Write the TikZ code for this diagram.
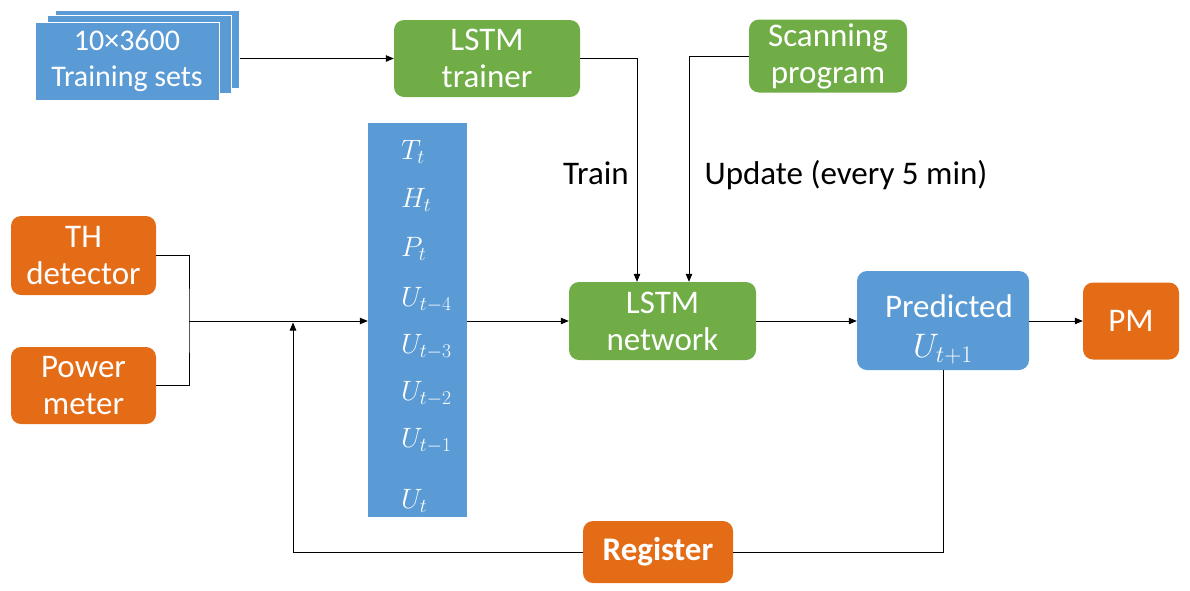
\RequirePackage{fix-cm}
\documentclass[tikz,border=0pt]{standalone}
\usepackage{fontspec}
\setmainfont{Carlito}
\usetikzlibrary{arrows.meta}
\definecolor{cblue}{RGB}{91,155,213}
\definecolor{cgreen}{RGB}{112,173,71}
\definecolor{corange}{RGB}{228,108,23}
\begin{document}
\begin{tikzpicture}[x=1pt,y=-1pt,
  box/.style={rounded corners=10pt, text=white, align=center, inner sep=0pt,
    font=\fontsize{33}{37}\selectfont},
  gbox/.style={box, fill=cgreen},
  obox/.style={box, fill=corange},
  bbox/.style={box, fill=cblue},
  sheet/.style={fill=cblue, draw=white, line width=1pt, inner sep=0pt,
    minimum width=184pt, minimum height=78pt, text=white, align=center,
    font=\fontsize{30}{36}\selectfont},
  var/.style={anchor=base west, text=white, inner sep=0pt, font=\fontsize{28}{32}\selectfont},
  lbl/.style={anchor=base, inner sep=0pt, text=black, font=\fontsize{33}{37}\selectfont},
  wire/.style={line width=0.8pt, black},
  arr/.style={wire, -{Triangle[length=8pt,width=6.5pt]}}
]
\useasboundingbox (0,0) rectangle (1190,590);

% training sets stack
\node[sheet] (ts3) at (147,49) {};
\node[sheet] (ts2) at (139,54) {};
\node[sheet] (ts) at (127,61) {10×3600\\Training sets};

% green boxes
\node[gbox, minimum width=186pt, minimum height=77pt] (trainer) at (487,58.5) {LSTM\\trainer};
\node[gbox, minimum width=158pt, minimum height=73pt] (scan) at (828,56) {Scanning\\program};
\node[gbox, minimum width=187pt, minimum height=78pt] (net) at (662.5,321) {LSTM\\network};

% labels
\node[lbl] (train) at (596,184) {Train};
\node[lbl] (upd) at (846,184) {Update (every 5 min)};

% input column
\node[fill=cblue, inner sep=0pt, minimum width=99pt, minimum height=394pt] (col) at (417.5,320) {};
\node[var] (v1) at (401,159) {$T_t$};
\node[var] (v2) at (401,207) {$H_t$};
\node[var] (v3) at (401,256) {$P_t$};
\node[var] (v4) at (401,306) {$U_{t-4}$};
\node[var] (v5) at (401,353) {$U_{t-3}$};
\node[var] (v6) at (401,400) {$U_{t-2}$};
\node[var] (v7) at (401,447) {$U_{t-1}$};
\node[var] (v8) at (401,508) {$U_{t}$};

% orange boxes
\node[obox, minimum width=145pt, minimum height=79pt] (th) at (83.5,255.5) {TH\\detector};
\node[obox, minimum width=145pt, minimum height=77pt] (pw) at (83.5,385.5) {Power\\meter};
\node[obox, minimum width=96pt, minimum height=77pt] (pm) at (1131,321) {PM};
\node[obox, minimum width=150pt, minimum height=62pt, font=\fontsize{33}{37}\selectfont\bfseries] (reg) at (658,552) {Register};

% predicted
\node[bbox, minimum width=172pt, minimum height=99pt] (pred) at (943,320.5) {};
\node[lbl, text=white] (predt) at (949,317) {Predicted};
\node[lbl, text=white, font=\fontsize{34}{40}\selectfont] (predu) at (943,357) {$U_{t+1}$};

% connectors
\coordinate (jn) at (189,321);
\coordinate (fb) at (293,322.5);
\draw[arr] (ts3.east |- trainer.west) -- (trainer.west);
\draw[arr] (trainer.east) -| ([xshift=-25.5pt]net.north);
\draw[arr] (scan.west) -| ([xshift=26.5pt]net.north);
\draw[wire] (th.east) -| (jn) |- (pw.east);
\draw[arr] (jn) -- (col.west |- jn);
\draw[arr] (col.east |- net.west) -- (net.west);
\draw[arr] (net.east) -- (pred.west |- net.east);
\draw[arr] (pred.east |- pm.west) -- (pm.west);
\draw[wire] (pred.south) |- (reg.east);
\draw[arr] (reg.west) -| (fb);
\end{tikzpicture}
\end{document}
